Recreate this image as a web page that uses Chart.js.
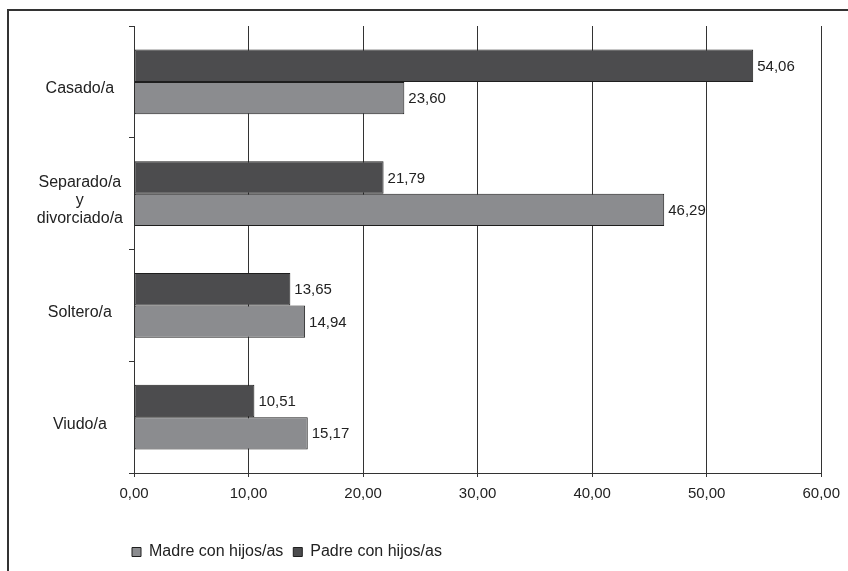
<!DOCTYPE html>
<html>
<head>
<meta charset="utf-8">
<title>Madre y padre con hijos/as según estado civil</title>
<script src="https://cdn.jsdelivr.net/npm/chart.js@4.4.1/dist/chart.umd.min.js"></script>
<style>
    html, body { margin: 0; padding: 0; background: #fff; overflow: hidden; }
    #frame { position: absolute; left: 7px; top: 9px; width: 1000px; height: 1000px; border-left: 2px solid #333; border-top: 2px solid #333; }
    #wrap { position: absolute; left: 0; top: 0; width: 848px; height: 571px; }
</style>
</head>
<body>
<div id="frame"></div>
<div id="wrap"><canvas id="chart" width="848" height="571"></canvas></div>
<script>
const categories = ['Casado/a', ['Separado/a', 'y', 'divorciado/a'], 'Soltero/a', 'Viudo/a'];
const madreValues = [23.60, 46.29, 14.94, 15.17];
const padreValues = [54.06, 21.79, 13.65, 10.51];
const xTickValues = [0, 10, 20, 30, 40, 50, 60];

const FONT = '"Liberation Sans", Arial, sans-serif';

function fmt(v) {
    return v.toFixed(2).replace('.', ',');
}

// value labels at the end of each bar
const valueLabels = {
    id: 'valueLabels',
    afterDatasetsDraw(chart) {
        const ctx = chart.ctx;
        ctx.save();
        ctx.font = '15px ' + FONT;
        ctx.fillStyle = '#222';
        ctx.textAlign = 'left';
        ctx.textBaseline = 'middle';
        chart.data.datasets.forEach((ds, i) => {
            chart.getDatasetMeta(i).data.forEach((bar, j) => {
                ctx.fillText(fmt(ds.data[j]), bar.x + 4, bar.y + 1);
            });
        });
        ctx.restore();
    }
};

// legend starts under the y axis, not at the canvas edge
const legendShift = {
    id: 'legendShift',
    afterLayout(chart) {
        chart.legend.left = chart.chartArea.left - 12;
    }
};

Chart.defaults.font.family = FONT;
Chart.defaults.color = '#222';

new Chart(document.getElementById('chart'), {
    type: 'bar',
    data: {
        labels: categories,
        datasets: [
            {
                label: 'Padre con hijos/as',
                data: padreValues,
                backgroundColor: '#4c4c4e',
                borderColor: '#1e1e1e',
                borderWidth: 1,
                borderSkipped: false
            },
            {
                label: 'Madre con hijos/as',
                data: madreValues,
                backgroundColor: '#8b8c8f',
                borderColor: '#1e1e1e',
                borderWidth: 1,
                borderSkipped: false
            }
        ]
    },
    options: {
        indexAxis: 'y',
        responsive: false,
        animation: false,
        categoryPercentage: 0.58,
        barPercentage: 1.0,
        layout: { padding: { top: 26, right: 22, bottom: 1, left: 0 } },
        scales: {
            x: {
                min: 0,
                max: 60,
                afterBuildTicks: scale => {
                    scale.ticks = xTickValues.map(v => ({ value: v }));
                },
                afterFit: scale => { scale.height = 61; },
                grid: { color: '#333', lineWidth: 1, tickLength: 4 },
                border: { color: '#333', width: 1 },
                ticks: {
                    padding: 8,
                    maxRotation: 0,
                    font: { size: 15 },
                    callback: v => fmt(v)
                }
            },
            y: {
                afterFit: scale => { scale.width = 134; },
                grid: { drawOnChartArea: false, offset: true, color: '#333', tickLength: 5 },
                border: { color: '#333', width: 1 },
                ticks: {
                    crossAlign: 'center',
                    padding: 6,
                    labelOffset: 7,
                    font: { size: 16, lineHeight: 1.1 }
                }
            }
        },
        plugins: {
            legend: {
                position: 'bottom',
                align: 'start',
                reverse: true,
                labels: {
                    boxWidth: 9,
                    boxHeight: 9,
                    padding: 10,
                    font: { size: 16 },
                    color: '#222'
                }
            },
            tooltip: { enabled: false }
        }
    },
    plugins: [valueLabels, legendShift]
});
</script>
</body>
</html>
